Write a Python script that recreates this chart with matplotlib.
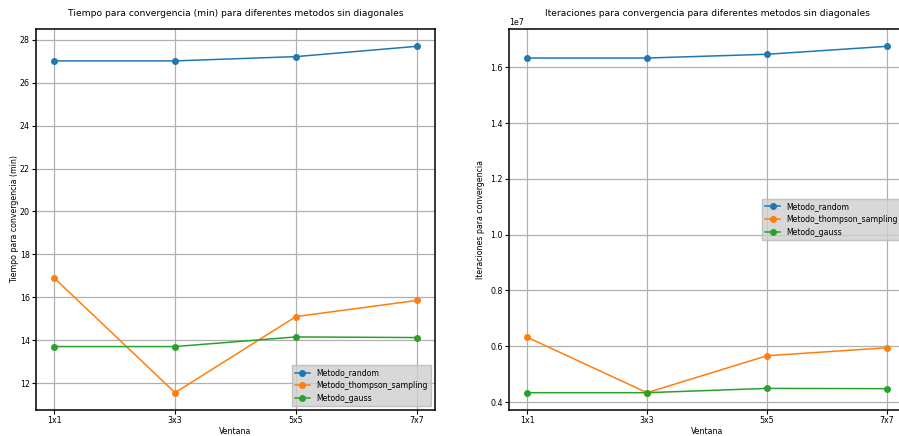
import matplotlib
matplotlib.use("Agg")
import matplotlib.pyplot as plt

ventanas = ["1x1", "3x3", "5x5", "7x7"]

tiempo_random = [27.02, 27.02, 27.22, 27.70]
tiempo_thompson = [16.90, 11.55, 15.10, 15.85]
tiempo_gauss = [13.70, 13.70, 14.15, 14.12]

iter_random = [1.633e7, 1.633e7, 1.6465e7, 1.675e7]
iter_thompson = [0.6326e7, 0.4336e7, 0.566e7, 0.5946e7]
iter_gauss = [0.4336e7, 0.4336e7, 0.449e7, 0.448e7]

metodos = ["Metodo_random", "Metodo_thompson_sampling", "Metodo_gauss"]

plt.rcParams["font.size"] = 5.7

fig = plt.figure(figsize=(8.99, 4.36), dpi=100)
W, H = 899, 436
ax1 = fig.add_axes([36 / W, 1 - 410 / H, (435 - 36) / W, (410 - 29) / H])
ax2 = fig.add_axes([509 / W, 1 - 410 / H, (905 - 509) / W, (410 - 29) / H])

for ax, series, title, ylabel, loc, ypad in [
    (ax1, [tiempo_random, tiempo_thompson, tiempo_gauss],
     "Tiempo para convergencia (min) para diferentes metodos sin diagonales",
     "Tiempo para convergencia (min)", "lower right", 0.3),
    (ax2, [iter_random, iter_thompson, iter_gauss],
     "Iteraciones para convergencia para diferentes metodos sin diagonales",
     "Iteraciones para convergencia", "center right", 4),
]:
    for vals, name in zip(series, metodos):
        ax.plot(ventanas, vals, marker="o", markersize=4, linewidth=1.1, label=name)
    ax.set_title(title, fontsize=6.6, pad=9)
    ax.set_xlabel("Ventana", fontsize=5.7, labelpad=1)
    ax.set_ylabel(ylabel, fontsize=5.7, labelpad=ypad)
    ax.grid(True, color="#b0b0b0", linewidth=0.9)
    ax.tick_params(labelsize=5.7, length=3, pad=1.5)
    ax.legend(loc=loc, fontsize=5.6, fancybox=False, framealpha=0.8,
              facecolor="#cfcfcf", edgecolor="#b8b8b8")
    for s in ax.spines.values():
        s.set_linewidth(1.1)

fig.savefig("out.png", dpi=100)
